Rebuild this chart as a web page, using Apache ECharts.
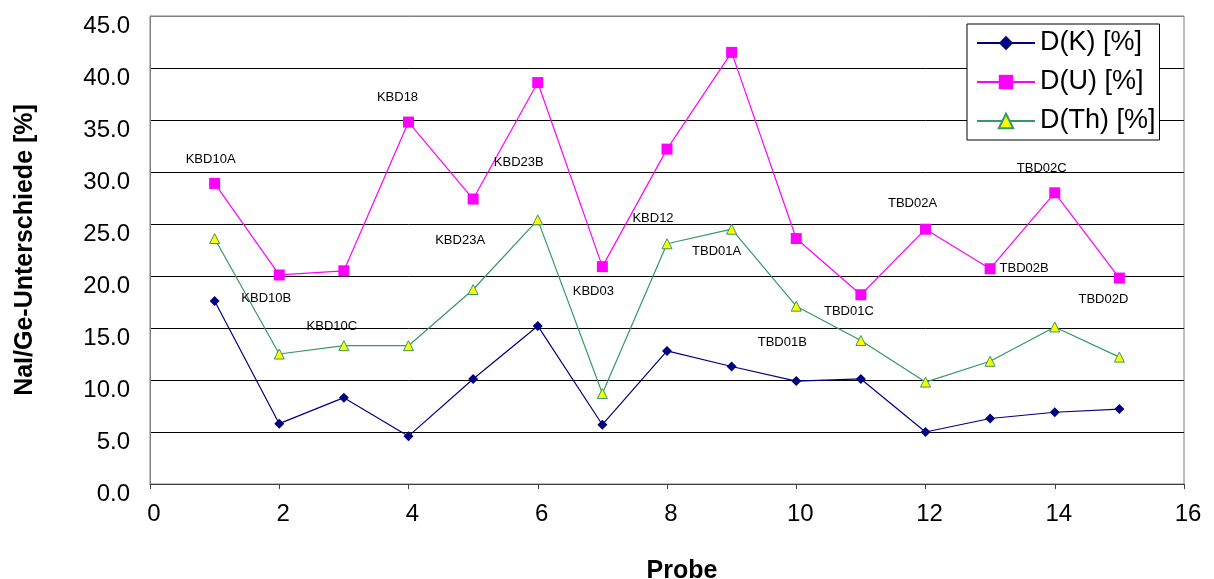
<!DOCTYPE html>
<html>
<head>
<meta charset="utf-8">
<title>NaI/Ge-Unterschiede</title>
<script src="https://cdn.jsdelivr.net/npm/echarts@6/dist/echarts.min.js"></script>
<style>
  html, body { margin: 0; padding: 0; background: #fff; }
  #chart { width: 1214px; height: 579px; }
</style>
</head>
<body>
<div id="chart"></div>
<script>
// Probe numbers along the x axis
const probes = [1, 2, 3, 4, 5, 6, 7, 8, 9, 10, 11, 12, 13, 14, 15];
// Sample names written next to each probe
const sampleNames = ['KBD10A', 'KBD10B', 'KBD10C', 'KBD18', 'KBD23A', 'KBD23B', 'KBD03',
  'KBD12', 'TBD01A', 'TBD01B', 'TBD01C', 'TBD02A', 'TBD02B', 'TBD02C', 'TBD02D'];
// Differences NaI vs Ge, in percent
const dK  = [17.6, 5.8, 8.3, 4.6, 10.1, 15.2, 5.7, 12.8, 11.3, 9.9, 10.1, 5.0, 6.3, 6.9, 7.2];
const dU  = [28.9, 20.1, 20.5, 34.8, 27.4, 38.6, 20.9, 32.2, 41.5, 23.6, 18.2, 24.5, 20.7, 28.0, 19.8];
const dTh = [23.6, 12.5, 13.3, 13.3, 18.7, 25.4, 8.7, 23.1, 24.5, 17.1, 13.8, 9.8, 11.8, 15.1, 12.2];
// Axis ranges and steps
const xTicks = { min: 0, max: 16, step: 2 };
const yTicks = { min: 0, max: 45, step: 5 };

// Where each sample name sits relative to its D(U) marker (pixels)
const nameOffsets = [[-4, -24], [-13, 23], [-12, 56], [-11, -25], [-13, 41], [-19, 80], [-9, 25],
  [-14, 69], [-15, 199], [-14, 104], [-12, 17], [-13, -26], [34, 0], [-13, -24], [-16, 21]];

const pairs = (vals) => probes.map((p, i) => [p, vals[i]]);
const font = 'Liberation Sans, Arial, sans-serif';

const uData = probes.map((p, i) => ({
  value: [p, dU[i]],
  name: sampleNames[i],
  label: {
    show: true,
    position: 'inside',
    offset: nameOffsets[i],
    formatter: sampleNames[i],
    color: '#000',
    fontSize: 13,
    fontFamily: font
  }
}));

// Plot frame lines are grey, inner gridlines black
const gridColors = ['#808080'];
for (let v = yTicks.min + yTicks.step; v < yTicks.max; v += yTicks.step) gridColors.push('#000');
gridColors.push('#808080');

const chart = echarts.init(document.getElementById('chart'), null, { renderer: 'canvas' });
chart.setOption({
  animation: false,
  backgroundColor: '#fff',
  textStyle: { fontFamily: font },
  grid: {
    left: 150, right: 30, top: 16, bottom: 95,
    outerBoundsMode: 'none',
    containLabel: false,
    show: true, borderColor: '#808080', borderWidth: 1, backgroundColor: 'transparent'
  },
  legend: {
    orient: 'vertical',
    left: 967, top: 24,
    padding: [5, 4, 5, 9],
    itemWidth: 58, itemHeight: 18, itemGap: 11,
    backgroundColor: '#fff',
    borderColor: '#000', borderWidth: 1, borderRadius: 0,
    textStyle: { fontSize: 27, lineHeight: 28, color: '#000', fontFamily: font },
    data: ['D(K) [%]', 'D(U) [%]', 'D(Th) [%]']
  },
  xAxis: {
    type: 'value',
    min: xTicks.min, max: xTicks.max, interval: xTicks.step,
    name: 'Probe',
    nameLocation: 'middle',
    nameGap: 75,
    nameTextStyle: { fontSize: 25, fontWeight: 'bold', color: '#000', padding: [0, 0, 0, 30], fontFamily: font },
    axisLine: { show: true, lineStyle: { color: '#404040', width: 1 } },
    axisTick: { show: true, inside: false, length: 5, lineStyle: { color: '#404040' } },
    axisLabel: { fontSize: 24, color: '#000', margin: 18, padding: [0, 0, 0, 8], fontFamily: font },
    splitLine: { show: false }
  },
  yAxis: {
    type: 'value',
    min: yTicks.min, max: yTicks.max, interval: yTicks.step,
    name: 'NaI/Ge-Unterschiede [%]',
    nameLocation: 'middle',
    nameRotate: 90,
    nameGap: 112,
    nameTextStyle: { fontSize: 25, fontWeight: 'bold', color: '#000', fontFamily: font },
    axisLine: { show: true, lineStyle: { color: '#808080', width: 1 } },
    axisTick: { show: false },
    axisLabel: {
      fontSize: 24, color: '#000', margin: 20, fontFamily: font,
      verticalAlign: 'top', lineHeight: 20,
      formatter: (v) => v.toFixed(1)
    },
    splitLine: { show: true, lineStyle: { color: gridColors, width: 1 } }
  },
  series: [
    {
      name: 'D(K) [%]', type: 'line', data: pairs(dK),
      symbol: 'diamond', symbolSize: 10,
      lineStyle: { color: '#000080', width: 1.2 },
      itemStyle: { color: '#000080' }
    },
    {
      name: 'D(U) [%]', type: 'line', data: uData,
      symbol: 'rect', symbolSize: 11,
      lineStyle: { color: '#FF00FF', width: 1.2 },
      itemStyle: { color: '#FF00FF' }
    },
    {
      name: 'D(Th) [%]', type: 'line', data: pairs(dTh),
      symbol: 'triangle', symbolSize: 10,
      lineStyle: { color: '#339966', width: 1.2 },
      itemStyle: { color: '#FFFF00', borderColor: '#339966', borderWidth: 1 }
    }
  ]
});
</script>
</body>
</html>
